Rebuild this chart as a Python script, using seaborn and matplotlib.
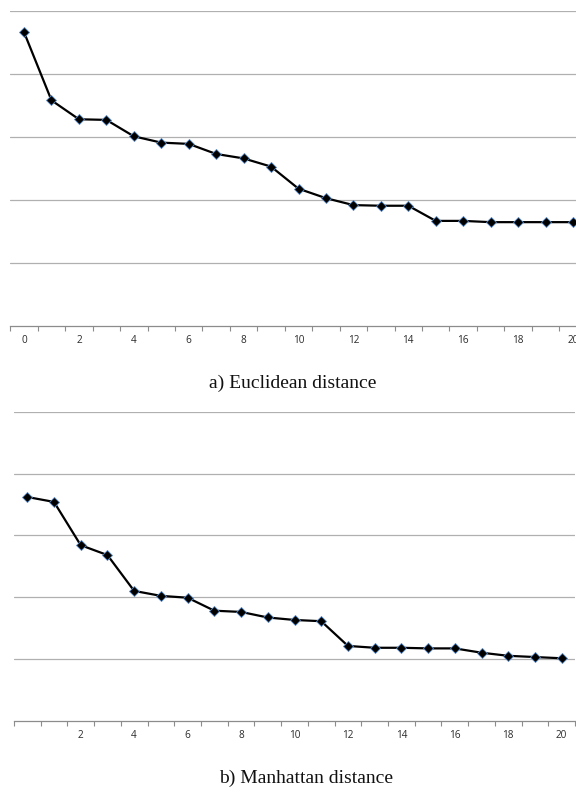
import matplotlib
matplotlib.use("Agg")
import matplotlib.pyplot as plt
import seaborn as sns
import numpy as np

# ---- data ----
index_a = list(range(21))
euclidean = [4.66, 3.58, 3.28, 3.27, 3.01, 2.91, 2.89, 2.73, 2.66, 2.53, 2.18,
             2.03, 1.92, 1.91, 1.91, 1.67, 1.67, 1.65, 1.65, 1.65, 1.65]
index_b = list(range(21))
manhattan = [3.62, 3.54, 2.84, 2.68, 2.10, 2.02, 1.99, 1.78, 1.76, 1.67, 1.63,
             1.61, 1.21, 1.18, 1.18, 1.17, 1.17, 1.10, 1.05, 1.03, 1.01]
labels_a = [0, 2, 4, 6, 8, 10, 12, 14, 16, 18, 20]
labels_b = [2, 4, 6, 8, 10, 12, 14, 16, 18, 20]
captions = ["a) Euclidean distance", "b) Manhattan distance"]
y_grid = [1, 2, 3, 4, 5]

sns.set_theme(style="white")
plt.rcParams['font.family'] = ['Open Sans', 'DejaVu Sans']

W, H = 576, 787
fig = plt.figure(figsize=(W / 100, H / 100), dpi=100)

def px_axes(x0, x1, ytop, ybot):
    return fig.add_axes([x0 / W, 1 - ybot / H, (x1 - x0) / W, (ybot - ytop) / H])

ax_a = px_axes(10.3, 586.7, 10.7, 326.3)
ax_b = px_axes(13.9, 575.1, 411.7, 720.7)

def style(ax, xs, ys, labels):
    sns.lineplot(x=xs, y=ys, ax=ax, color="black", linewidth=1.6, marker="D",
                 markersize=5.5, markerfacecolor="black", markeredgecolor="#5b8cc8",
                 markeredgewidth=0.6, clip_on=False, zorder=5)
    ax.set_xlim(-0.5, 20.5)
    ax.set_ylim(0, 5)
    ax.set_yticks(y_grid)
    ax.yaxis.grid(True, color="#b0b0b0", linewidth=0.9)
    ax.xaxis.grid(False)
    ax.tick_params(axis="y", left=False, labelleft=False)
    for s in ["left", "right", "top"]:
        ax.spines[s].set_visible(False)
    ax.spines["bottom"].set_color("#8c8c8c")
    ax.spines["bottom"].set_linewidth(0.9)
    ax.set_xticks(labels)
    ax.set_xticklabels([str(v) for v in labels])
    ax.set_xticks(np.arange(-0.5, 21.0, 1.0), minor=True)
    ax.tick_params(axis="x", which="major", length=0, pad=6.5, labelsize=7.2,
                   labelcolor="#2b2b2b")
    ax.tick_params(axis="x", which="minor", length=3.5, width=0.8, color="#8c8c8c",
                   direction="out", bottom=True)
    ax.set_xlabel("")
    ax.set_ylabel("")

style(ax_a, index_a, euclidean, labels_a)
style(ax_b, index_b, manhattan, labels_b)

fig.text(293 / W, 1 - 383 / H, captions[0], ha="center", va="center",
         family="Liberation Serif", fontsize=14, color="#111111")
fig.text(306 / W, 1 - 778 / H, captions[1], ha="center", va="center",
         family="Liberation Serif", fontsize=14, color="#111111")

fig.savefig("out.png", dpi=100)
